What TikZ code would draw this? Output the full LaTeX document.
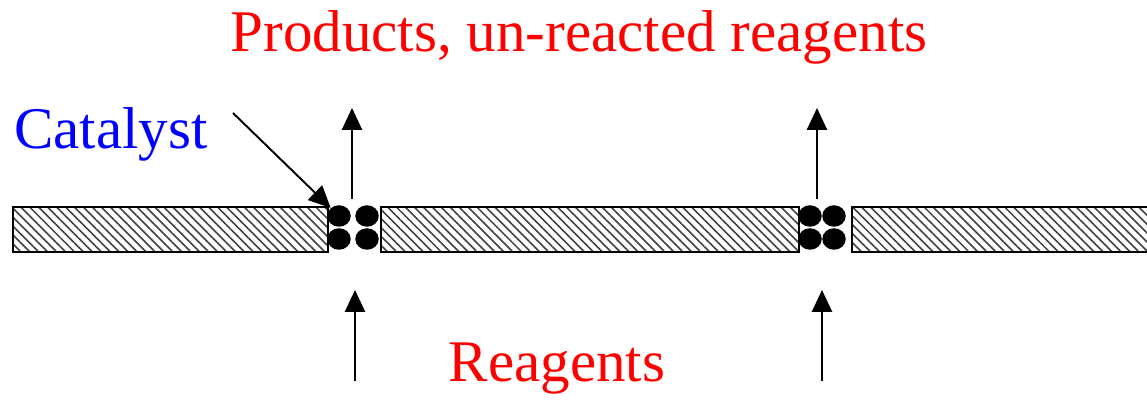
\documentclass[tikz,border=0pt]{standalone}
\usepackage{fontspec}
\setmainfont{Liberation Serif}
\usetikzlibrary{positioning, arrows.meta, patterns.meta, shapes.geometric}

\begin{document}
\begin{tikzpicture}[x=0.02cm, y=-0.02cm,
    wall/.style={draw=black, line width=1.1pt, inner sep=0pt, anchor=north west,
        minimum height=0.9cm,
        pattern={Lines[angle=-45, distance=3.6pt, line width=0.9pt]}, pattern color=black!75},
    grain/.style={ellipse, fill=black, inner sep=0pt, minimum width=0.47cm, minimum height=0.43cm},
    flow/.style={line width=1.1pt, -{Triangle[length=12.5pt, width=11.5pt]}},
    label/.style={font=\fontsize{33.6}{38}\selectfont}]
    \useasboundingbox (0,0) rectangle (1147,401);

    % porous walls
    \node[wall, minimum width=6.3cm] (wallL) at (12,206) {};
    \node[wall, minimum width=8.36cm] (wallM) at (380,206) {};
    \begin{scope}
        \clip (0,0) rectangle (1147,401);
        \node[wall, minimum width=6.2cm] (wallR) at (851,206) {};
    \end{scope}

    % catalyst grains in the gaps
    \node[grain] (g1) at (339,216) {};
    \node[grain] (g2) at (367,216) {};
    \node[grain] (g3) at (339,239) {};
    \node[grain] (g4) at (367,239) {};
    \node[grain] (g5) at (810,216) {};
    \node[grain] (g6) at (834,216) {};
    \node[grain] (g7) at (810,239) {};
    \node[grain] (g8) at (834,239) {};

    % labels
    \node[label, text=red] (prod) at (579,37) {Products, un-reacted reagents};
    \node[label, text=red] (reag) at (557,369) {Reagents};
    \node[label, text=blue] (cat) at (111,134) {Catalyst};

    % flow through the gaps
    \coordinate (out1s) at (352,199);
    \coordinate (out1e) at (352,108);
    \coordinate (out2s) at (817,199);
    \coordinate (out2e) at (817,108);
    \coordinate (in1s) at (355,381);
    \coordinate (in1e) at (355,290);
    \coordinate (in2s) at (822,381);
    \coordinate (in2e) at (822,290);
    \draw[flow] (out1s) -- (out1e);
    \draw[flow] (out2s) -- (out2e);
    \draw[flow] (in1s) -- (in1e);
    \draw[flow] (in2s) -- (in2e);

    % pointer to the catalyst
    \coordinate (catS) at (233,113);
    \draw[flow] (catS) -- (g1);
\end{tikzpicture}
\end{document}
